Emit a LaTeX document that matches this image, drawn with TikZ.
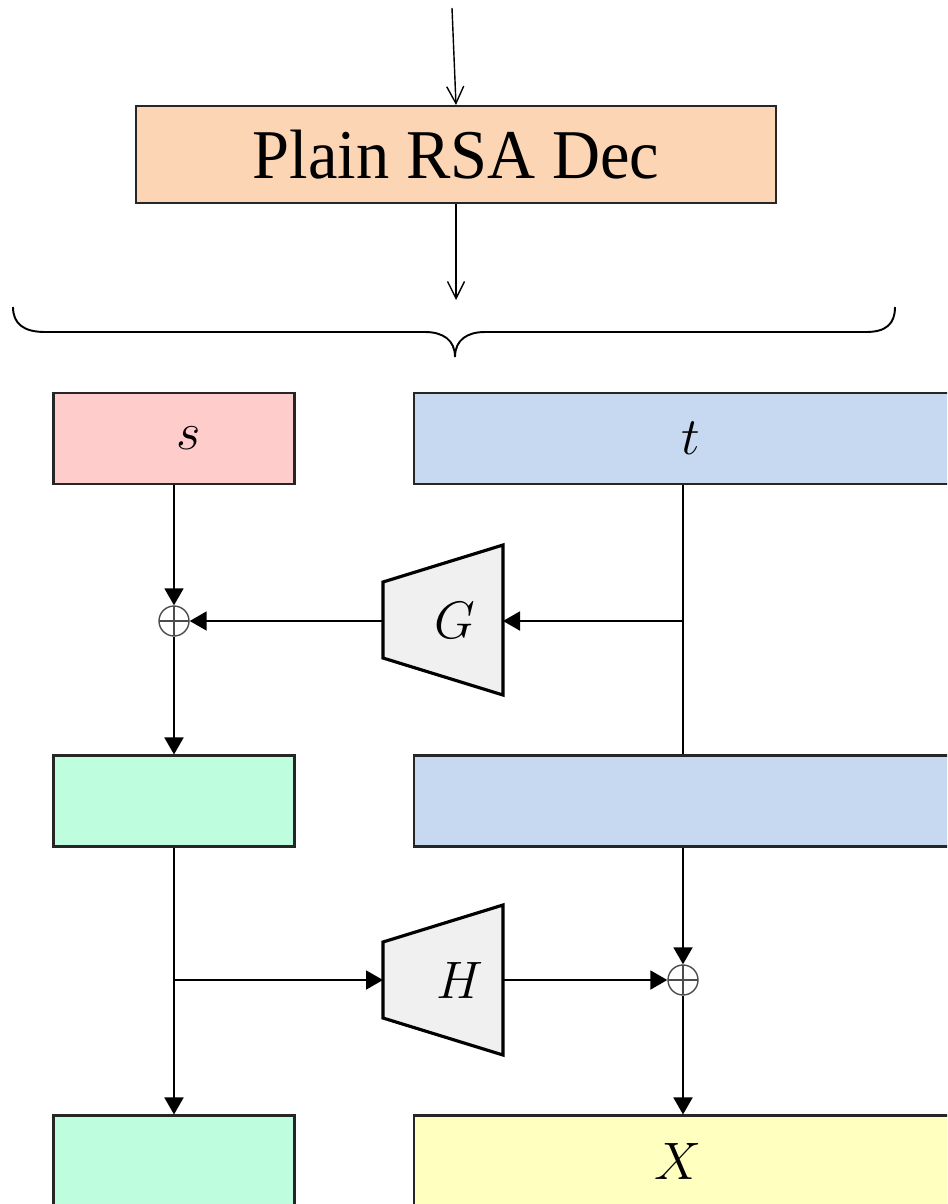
\RequirePackage{fix-cm}
\documentclass[tikz,border=0pt]{standalone}
\usepackage{fontspec}
\newfontfamily\titlefont{Liberation Serif}
\usetikzlibrary{arrows.meta}
\definecolor{peach}{HTML}{FCD5B5}
\definecolor{rose}{HTML}{FFCCCC}
\definecolor{sky}{HTML}{C6D9F0}
\definecolor{mint}{HTML}{BEFEDF}
\definecolor{lemon}{HTML}{FFFFC0}
\definecolor{hashgray}{HTML}{F0F0F0}
\tikzset{
  box/.style={draw=black!85, line width=1.2pt, inner sep=0pt, minimum height=1.82cm},
  lbox/.style={box, minimum width=4.82cm},
  rbox/.style={box, minimum width=10.76cm},
  flow/.style={line width=1.1pt, -{Triangle[length=0.34cm,width=0.38cm]}},
  joinline/.style={line width=1.1pt},
  feed/.style={line width=0.8pt, -{Straight Barb[length=0.34cm,width=0.34cm]}},
  xor/.style={circle, draw=black!70, line width=0.8pt, minimum size=0.6cm, inner sep=0pt,
    path picture={\draw[black!70, line width=0.8pt]
      (path picture bounding box.north) -- (path picture bounding box.south)
      (path picture bounding box.west) -- (path picture bounding box.east);}},
  hashfn/.style={draw=black, line width=1.8pt, fill=hashgray, line join=miter},
  sym/.style={font=\fontsize{30}{36}\selectfont},
  fnlabel/.style={font=\fontsize{30}{36}\selectfont},
}
\begin{document}
\begin{tikzpicture}[x=0.02cm, y=-0.02cm]
\useasboundingbox (0,0) rectangle (947,1204);
\clip (0,0) rectangle (947,1204);

% decryption step
\coordinate (in) at (452,8);
\node[box, fill=peach, minimum width=12.8cm, minimum height=1.94cm,
      font=\titlefont\fontsize{39}{44}\selectfont] (rsa) at (456,154.5)
      {\scalebox{0.97}[1.02]{Plain RSA Dec}};
\coordinate (out) at (456,300);
\draw[feed] (in) -- (rsa.north);
\draw[feed] (rsa.south) -- (out);

% brace over the decoded block
\coordinate (tip) at (455,357);
\draw[line width=1.1pt] (13,307) .. controls (13,324) and (24,332) .. (45,332)
  -- (425,332) .. controls (443,332) and (455,340) .. (tip)
  .. controls (455,340) and (467,332) .. (485,332)
  -- (866,332) .. controls (886,332) and (895,324) .. (895,307);

% first row: s and t
\node[lbox, fill=rose, label={[sym, xshift=0.29cm]center:$s$}] (s) at (174,438.5) {};
\node[rbox, fill=sky, label={[sym, xshift=0.16cm]center:$t$}] (t) at (683,438.5) {};

% G round
\node[xor] (x1) at (174,621) {};
\draw[hashfn] (383,582) -- (503,545) -- (503,695) -- (383,658) -- cycle;
\coordinate (Gin) at (503,621);
\coordinate (Gout) at (383,621);
\node[fnlabel] (G) at (455,620) {$G$};
\coordinate (tb) at (683,621);

% second row
\node[lbox, fill=mint] (m1) at (174,801) {};
\node[rbox, fill=sky] (r1) at (683,801) {};

\draw[flow] (s.south) -- (x1);
\draw[joinline] (t.south) -- (r1.north);
\draw[flow] (tb) -- (Gin);
\draw[flow] (Gout) -- (x1);
\draw[flow] (x1) -- (m1.north);

% H round
\node[xor] (x2) at (683,980) {};
\draw[hashfn] (383,942) -- (503,905) -- (503,1055) -- (383,1018) -- cycle;
\coordinate (Hin) at (383,980);
\coordinate (Hout) at (503,980);
\node[fnlabel] (H) at (460,980) {$H$};
\coordinate (mb) at (174,980);

% third row
\node[lbox, fill=mint] (m2) at (174,1161) {};
\node[rbox, fill=lemon, label={[font=\fontsize{30}{36}\selectfont, xshift=-0.1cm]center:$X$}] (x) at (683,1161) {};

\draw[flow] (m1.south) -- (m2.north);
\draw[flow] (mb) -- (Hin);
\draw[flow] (Hout) -- (x2);
\draw[flow] (r1.south) -- (x2);
\draw[flow] (x2) -- (x.north);
\end{tikzpicture}
\end{document}
